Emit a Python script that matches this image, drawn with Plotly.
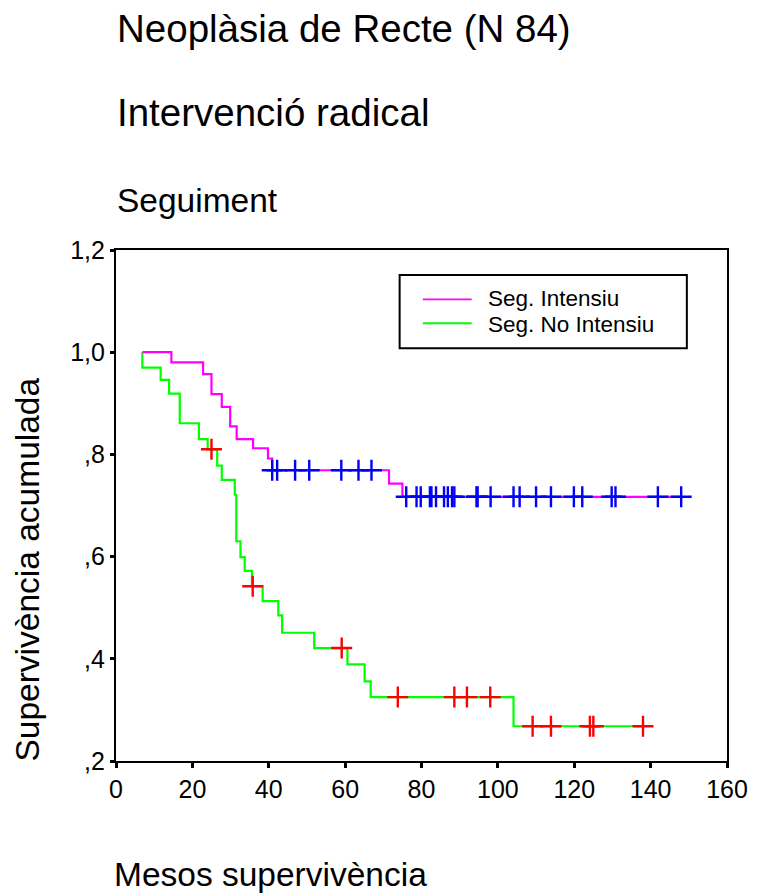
import plotly.graph_objects as go
import numpy as np

# ---- Data ----
# Seg. Intensiu (magenta): start time, event times, survival after each event, end time
int_start = 6.9
int_event_t = [14.5, 22.8, 25.0, 27.7, 29.9, 31.6, 35.9, 39.8, 40.9, 71.5, 75.0]
int_event_s = [0.980, 0.957, 0.918, 0.893, 0.855, 0.830, 0.812, 0.792, 0.769, 0.743, 0.717]
int_end = 148.0
int_censor_t = [40.9, 42.2, 46.9, 50.6, 59.0, 63.5, 66.9, 76.0, 78.7, 79.8, 82.2, 82.6,
                83.8, 85.9, 86.9, 88.0, 88.6, 94.4, 94.7, 98.1, 104.1, 105.7, 110.0,
                113.9, 119.9, 122.1, 129.8, 130.8, 141.9, 148.0]

# Seg. No Intensiu (green)
noint_start = 6.9
noint_event_t = [6.9, 11.7, 13.9, 16.7, 21.7, 24.0, 26.5, 27.7, 31.1, 31.5, 32.6, 33.7,
                 35.6, 38.4, 42.5, 43.5, 51.9, 60.6, 65.1, 66.7, 104.1]
noint_event_s = [0.970, 0.946, 0.919, 0.861, 0.830, 0.810, 0.778, 0.750, 0.721, 0.630,
                 0.599, 0.572, 0.542, 0.513, 0.485, 0.451, 0.421, 0.389, 0.356, 0.325, 0.268]
noint_end = 138.0
noint_censor_t = [25.0, 35.8, 59.1, 73.8, 88.6, 91.9, 98.0, 109.1, 113.9, 124.1, 125.0, 138.0]

x_ticks = [0, 20, 40, 60, 80, 100, 120, 140, 160]
y_ticks = [0.2, 0.4, 0.6, 0.8, 1.0, 1.2]
y_tick_text = [",2", ",4", ",6", ",8", "1,0", "1,2"]

series_names = ["Seg. Intensiu", "Seg. No Intensiu"]
line_colors = ["#FF00FF", "#00FF00"]
censor_colors = ["#0000FF", "#FF0000"]


def step_xy(start, ev_t, ev_s, end):
    xs = [start] + list(ev_t) + [end]
    ys = [1.0] + list(ev_s) + [ev_s[-1]]
    return xs, ys


def surv_at(t, ev_t, ev_s):
    s = 1.0
    for et, es in zip(ev_t, ev_s):
        if et <= t:
            s = es
    return s


FONT = "Liberation Sans, Arial, Helvetica, sans-serif"

fig = go.Figure()

gx, gy = step_xy(noint_start, noint_event_t, noint_event_s, noint_end)
mx, my = step_xy(int_start, int_event_t, int_event_s, int_end)

fig.add_trace(go.Scatter(x=gx, y=gy, mode="lines", line=dict(color=line_colors[1], width=2.2, shape="hv"),
                         name=series_names[1], showlegend=False, hoverinfo="skip"))
fig.add_trace(go.Scatter(x=mx, y=my, mode="lines", line=dict(color=line_colors[0], width=2.2, shape="hv"),
                         name=series_names[0], showlegend=False, hoverinfo="skip"))

fig.add_trace(go.Scatter(x=noint_censor_t,
                         y=[surv_at(t, noint_event_t, noint_event_s) for t in noint_censor_t],
                         mode="markers",
                         marker=dict(symbol="cross-thin", size=15, line=dict(color=censor_colors[1], width=2.4)),
                         showlegend=False, hoverinfo="skip"))
fig.add_trace(go.Scatter(x=int_censor_t,
                         y=[surv_at(t, int_event_t, int_event_s) for t in int_censor_t],
                         mode="markers",
                         marker=dict(symbol="cross-thin", size=15, line=dict(color=censor_colors[0], width=2.4)),
                         showlegend=False, hoverinfo="skip"))

# pixel-to-paper helpers for layout positioning
L, R, T, B = 116, 30.7, 250, 134.3
W, H = 760, 895
pw, ph = W - L - R, H - T - B


def px(x):
    return (x - L) / pw


def py(y):
    return (H - B - y) / ph


annotations = [
    dict(text="Neoplàsia de Recte (N 84)", x=px(115), y=py(29), size=38.5),
    dict(text="Intervenció radical", x=px(115), y=py(113), size=38.5),
    dict(text="Seguiment", x=px(115), y=py(201), size=33.5),
    dict(text="Mesos supervivència", x=px(112), y=py(874), size=33.5),
]
ann = []
for a in annotations:
    ann.append(dict(text=a["text"], x=a["x"], y=a["y"], xref="paper", yref="paper",
                    xanchor="left", yanchor="middle", showarrow=False,
                    font=dict(size=a["size"], color="black", family=FONT)))

ann.append(dict(text="Supervivència acumulada", x=px(27), y=py(569), xref="paper", yref="paper",
                xanchor="center", yanchor="middle", showarrow=False, textangle=-90,
                font=dict(size=33.5, color="black", family=FONT)))

# legend (manual)
legend_text_y = [298.5, 324]
legend_line_y = [299.3, 323.2]
for name, ly in zip(series_names, legend_text_y):
    ann.append(dict(text=name, x=px(487), y=py(ly), xref="paper", yref="paper",
                    xanchor="left", yanchor="middle", showarrow=False,
                    font=dict(size=22.5, color="black", family=FONT)))

shapes = [dict(type="rect", xref="paper", yref="paper", x0=px(400.7), x1=px(689),
               y0=py(348.3), y1=py(275), line=dict(color="black", width=2), fillcolor="white",
               layer="below")]
for col, ly in zip(line_colors, legend_line_y):
    shapes.append(dict(type="line", xref="paper", yref="paper", x0=px(424), x1=px(473),
                       y0=py(ly), y1=py(ly), line=dict(color=col, width=1.8)))

fig.update_layout(
    width=W, height=H,
    margin=dict(l=L, r=R, t=T, b=B, pad=0),
    paper_bgcolor="white", plot_bgcolor="white",
    font=dict(family=FONT, color="black"),
    annotations=ann, shapes=shapes,
    showlegend=False,
)

fig.update_xaxes(range=[0, 160], tickvals=x_ticks, ticktext=[str(v) for v in x_ticks],
                 showgrid=False, zeroline=False, showline=True, linecolor="black", linewidth=2.2,
                 mirror=True, ticks="outside", ticklen=5, tickwidth=3, tickcolor="black",
                 tickfont=dict(size=25, family=FONT, color="black"))
fig.update_yaxes(range=[0.2, 1.2], tickvals=y_ticks, ticktext=y_tick_text,
                 showgrid=False, zeroline=False, showline=True, linecolor="black", linewidth=2.2,
                 mirror=True, ticks="outside", ticklen=4, tickwidth=3, tickcolor="black",
                 tickfont=dict(size=25, family=FONT, color="black"))

fig.write_html("out.html")
